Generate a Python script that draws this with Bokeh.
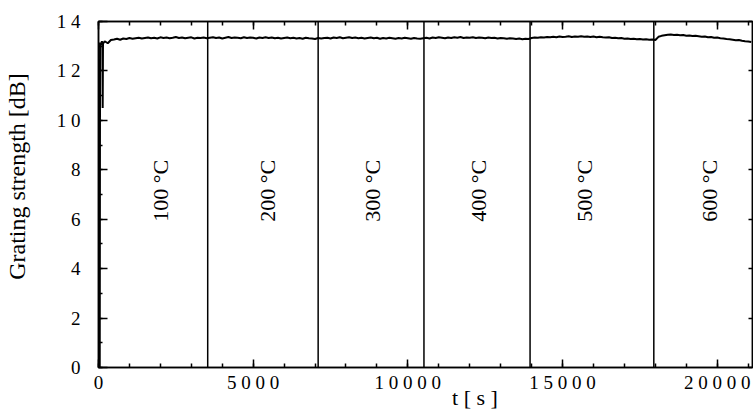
import math
from bokeh.plotting import figure
from bokeh.models import LinearAxis, FixedTicker, Range1d, ColumnDataSource
from bokeh.core.properties import value
from bokeh.embed import file_html
from bokeh.resources import INLINE

# ---- data ----
# start-up transient (time in s, grating strength in dB)
t_start = [0, 40, 50, 80, 110, 125, 135, 145, 200, 300, 400]
g_start = [0.0, 0.0, 13.15, 13.05, 13.2, 13.1, 10.5, 13.1, 13.2, 13.12, 13.25]

# regular samples every 100 s from 500 s to 21100 s
t_first, t_step = 500, 100
g_main = [
    13.27, 13.30, 13.26, 13.31, 13.29, 13.33, 13.30, 13.32, 13.34, 13.31,
    13.33, 13.35, 13.32, 13.34, 13.31, 13.36, 13.33, 13.35, 13.32, 13.34,
    13.37, 13.33, 13.35, 13.32, 13.34, 13.36, 13.31, 13.34, 13.33, 13.35,
    13.32, 13.34, 13.36, 13.33, 13.35, 13.31, 13.34, 13.37, 13.33, 13.35,
    13.34, 13.32, 13.36, 13.33, 13.35, 13.34, 13.31, 13.35, 13.33, 13.36,
    13.33, 13.35, 13.32, 13.34, 13.31, 13.33, 13.35, 13.32, 13.34, 13.31,
    13.33, 13.30, 13.34, 13.32, 13.31, 13.29, 13.33, 13.31, 13.33, 13.34,
    13.31, 13.35, 13.33, 13.36, 13.32, 13.34, 13.36, 13.33, 13.35, 13.32,
    13.34, 13.31, 13.33, 13.35, 13.32, 13.34, 13.30, 13.33, 13.31, 13.34,
    13.32, 13.30, 13.33, 13.31, 13.34, 13.32, 13.30, 13.33, 13.31, 13.30,
    13.32, 13.34, 13.31, 13.35, 13.33, 13.36, 13.34, 13.32, 13.35, 13.33,
    13.36, 13.34, 13.37, 13.33, 13.35, 13.34, 13.36, 13.33, 13.35, 13.34,
    13.32, 13.35, 13.33, 13.34, 13.31, 13.33, 13.32, 13.30, 13.32, 13.31,
    13.29, 13.31, 13.28, 13.30, 13.29, 13.33, 13.35, 13.34, 13.36, 13.35,
    13.37, 13.36, 13.38, 13.36, 13.39, 13.37, 13.38, 13.40, 13.37, 13.39,
    13.38, 13.40, 13.38, 13.39, 13.37, 13.39, 13.36, 13.38, 13.36, 13.35,
    13.36, 13.33, 13.34, 13.32, 13.33, 13.30, 13.31, 13.29, 13.30, 13.28,
    13.29, 13.27, 13.28, 13.26, 13.27, 13.25, 13.38, 13.42, 13.44, 13.46,
    13.47, 13.45, 13.46, 13.44, 13.45, 13.42, 13.43, 13.41, 13.42, 13.40,
    13.38, 13.39, 13.36, 13.37, 13.34, 13.35, 13.32, 13.31, 13.29, 13.28,
    13.26, 13.24, 13.25, 13.22, 13.20, 13.19, 13.17,
]
t_main = [t_first + t_step * i for i in range(len(g_main))]

# temperature step boundaries (s) and labels
step_times = [3530, 7100, 10520, 13950, 17950]
temp_labels = ["100 °C", "200 °C", "300 °C", "400 °C", "500 °C", "600 °C"]
temp_label_t = [1990, 5450, 8870, 12270, 15720, 19760]
temp_label_g = [7.15, 7.15, 7.15, 7.15, 7.15, 7.15]

x_ticks = [0, 5000, 10000, 15000, 20000]
x_tick_labels = ["0", "5 0 0 0", "1 0 0 0 0", "1 5 0 0 0", "2 0 0 0 0"]
y_ticks = [0, 2, 4, 6, 8, 10, 12, 14]
y_tick_labels = ["0", "2", "4", "6", "8", "1 0", "1 2", "1 4"]
x_minor = list(range(0, 21001, 1000))
y_minor = list(range(0, 15))

x_title = "t  [ s ]"
y_title = "Grating strength [dB]"

FONT = "Liberation Serif"
NBSP = "\u00a0"

p = figure(width=753, height=412, output_backend="svg", toolbar_location=None,
           x_range=Range1d(0, 21140), y_range=Range1d(0, 14),
           min_border_left=98, min_border_right=1, min_border_top=21, min_border_bottom=45)
p.background_fill_color = "white"
p.border_fill_color = "white"
p.outline_line_color = "black"
p.outline_line_width = 1.5
p.grid.visible = False

t_all = t_start + t_main
g_all = g_start + g_main
p.line(t_all, g_all, line_color="black", line_width=2)

seg = ColumnDataSource(dict(x=step_times, y0=[0] * len(step_times), y1=[14] * len(step_times)))
p.segment(x0="x", y0="y0", x1="x", y1="y1", source=seg, line_color="black", line_width=1.5)

lab = ColumnDataSource(dict(x=temp_label_t, y=temp_label_g, t=temp_labels))
p.text(x="x", y="y", text="t", source=lab, angle=math.pi / 2,
       text_align="center", text_baseline="middle",
       text_font=value(FONT), text_font_size="22px", text_color="black")

def style(ax, labels=True):
    ax.axis_line_color = "black"
    ax.axis_line_width = 1.5
    ax.major_tick_in = 8
    ax.major_tick_out = 0
    ax.minor_tick_in = 4
    ax.minor_tick_out = 0
    ax.major_tick_line_width = 1.5
    ax.minor_tick_line_width = 1.5
    ax.major_label_text_font = FONT
    ax.major_label_text_font_size = "19px"
    ax.major_label_text_color = "black"
    ax.axis_label_text_font = FONT
    ax.axis_label_text_font_style = "normal"
    ax.axis_label_text_color = "black"
    if not labels:
        ax.major_label_text_font_size = "0px"
        ax.major_label_text_color = None
        ax.major_label_standoff = 0

xb = p.xaxis[0]
xb.ticker = FixedTicker(ticks=x_ticks, minor_ticks=x_minor)
xb.major_label_overrides = dict(zip(x_ticks, x_tick_labels))
style(xb)
xb.major_label_standoff = 4
# leading no-break spaces move the title right of centre, as in the reference
xb.axis_label = NBSP * 19 + x_title
xb.axis_label_text_font_size = "22px"
xb.axis_label_standoff = -11

yl = p.yaxis[0]
yl.ticker = FixedTicker(ticks=y_ticks, minor_ticks=y_minor)
yl.major_label_overrides = dict(zip(y_ticks, y_tick_labels))
style(yl)
yl.major_tick_in = 9
yl.major_label_standoff = 18
# leading no-break spaces move the title above centre, as in the reference
yl.axis_label = NBSP * 6 + y_title
yl.axis_label_text_font_size = "24px"
yl.axis_label_standoff = 24

xt = LinearAxis(ticker=FixedTicker(ticks=x_ticks, minor_ticks=x_minor))
style(xt, labels=False)
p.add_layout(xt, "above")

yr = LinearAxis(ticker=FixedTicker(ticks=y_ticks, minor_ticks=[]))
style(yr, labels=False)
yr.major_tick_in = 4
yr.minor_tick_line_color = None
p.add_layout(yr, "right")

open("out.html", "w").write(file_html(p, INLINE))
